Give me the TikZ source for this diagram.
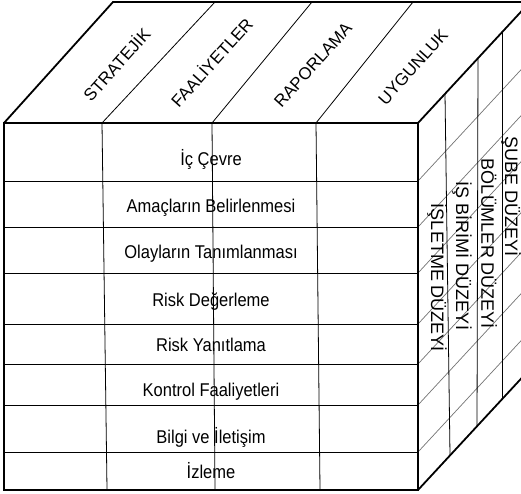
\documentclass[tikz,border=0pt]{standalone}
\usepackage{fontspec}
\setmainfont{Liberation Sans}

\begin{document}
\begin{tikzpicture}[
      x=1pt, y=-1pt,
      frontlabel/.style={
        font=\fontsize{16.5}{18}\selectfont,
        anchor=base,
        yscale=1.12,
        inner sep=0pt
      },
      toplabel/.style={
        font=\fontsize{17}{19}\selectfont,
        rotate=48,
        inner sep=0pt
      },
      sidelabel/.style={
        font=\fontsize{18}{20}\selectfont,
        rotate=-90,
        inner sep=0pt
      },
      outeredge/.style={
        line width=1.8pt,
        line join=miter
      },
      gridline/.style={
        line width=0.8pt
      },
      depthline/.style={
        line width=0.7pt,
        draw=black!55
      }
    ]
    \useasboundingbox (0,0) rectangle (521,494);
    \clip (0,0) rectangle (521,494);

    % Cube corners
    \coordinate (frontTopLeft) at (4,123);
    \coordinate (frontTopRight) at (418,123);
    \coordinate (frontBottomLeft) at (4,490);
    \coordinate (frontBottomRight) at (418,490);
    \coordinate (backTopLeft) at (113,2);
    \coordinate (backTopRight) at (530,2);
    \coordinate (backBottomRight) at (530,369);

    % Rows of the front face and their depth lines
    \foreach \y in {181,227,273,324,364,405,452} {
      \draw [gridline] (4,\y) -- (418,\y);
      \draw [depthline] (418,\y) -- ++(112,-121);
    }

    % Columns of the front face
    \draw [gridline] (102,123) -- (107,489);
    \draw [gridline] (212,123) -- (215,489);
    \draw [gridline] (316,123) -- (320,489);

    % Columns of the top face
    \draw [gridline] (102,123) -- (215,2);
    \draw [gridline] (212,123) -- (312,2);
    \draw [gridline] (316,123) -- (413,2);

    % Columns of the right face
    \draw [gridline] (445,94) -- (450,455);
    \draw [gridline] (478,58) -- (477,426);
    \draw [gridline] (502,32) -- (502,399);

    % Outer edges
    \draw [outeredge] (frontBottomLeft) rectangle (frontTopRight);
    \draw [outeredge] (frontTopLeft) -- (backTopLeft) -- (backTopRight);
    \draw [outeredge] (frontTopRight) -- (backTopRight);
    \draw [outeredge] (frontBottomRight) -- (backBottomRight);

    % Front labels
    \node (icCevre) [frontlabel] at (211,166) {İç Çevre};
    \node (amaclar) [frontlabel] at (211,212) {Amaçların Belirlenmesi};
    \node (olaylar) [frontlabel] at (211,258) {Olayların Tanımlanması};
    \node (riskDeger) [frontlabel] at (211,306) {Risk Değerleme};
    \node (riskYanit) [frontlabel] at (211,351) {Risk Yanıtlama};
    \node (kontrol) [frontlabel] at (211,396) {Kontrol Faaliyetleri};
    \node (bilgi) [frontlabel] at (211,443) {Bilgi ve İletişim};
    \node (izleme) [frontlabel] at (211,478) {İzleme};

    % Top labels
    \node (stratejik) [toplabel] at (116,64) {STRATEJİK};
    \node (faaliyetler) [toplabel] at (211,62) {FAALİYETLER};
    \node (raporlama) [toplabel] at (313,65) {RAPORLAMA};
    \node (uygunluk) [toplabel] at (413,67) {UYGUNLUK};

    % Side labels
    \node (isletme) [sidelabel] at (437,278) {İŞLETME DÜZEYİ};
    \node (isBirimi) [sidelabel] at (462,256) {İŞ BİRİMİ DÜZEYİ};
    \node (bolumler) [sidelabel] at (489,244) {BÖLÜMLER DÜZEYİ};
    \node (sube) [sidelabel] at (511,197) {ŞUBE DÜZEYİ};

\end{tikzpicture}
\end{document}
